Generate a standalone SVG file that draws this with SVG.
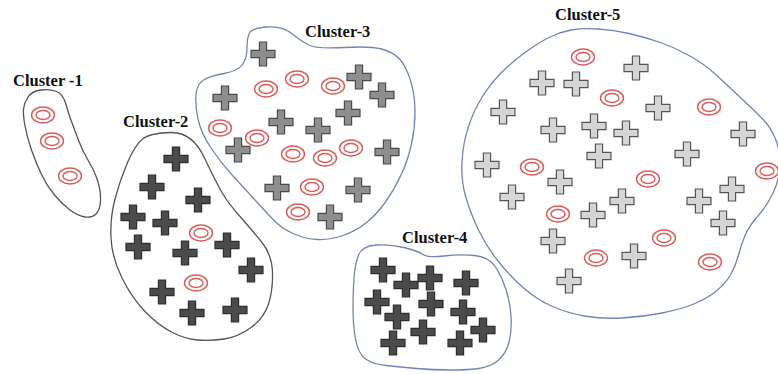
<svg xmlns="http://www.w3.org/2000/svg" xmlns:xlink="http://www.w3.org/1999/xlink" width="778" height="374" viewBox="0 0 778 374">
<style>
.bg{fill:#ffffff}
.outline-k{fill:none;stroke:#555555;stroke-width:1.3}
.outline-b{fill:none;stroke:#7484b4;stroke-width:1.3}
.label{font-family:"Liberation Serif","Times New Roman",serif;font-weight:bold;font-size:16.5px;fill:#111111}
.dark{fill:#4b4b4b;stroke:#2e2e2e;stroke-width:1.2}
.mid{fill:#8e8e8e;stroke:#4a4a4a;stroke-width:1.2}
.light{fill:#d5d5d5;stroke:#555555;stroke-width:1.2}
.ring ellipse{fill:none;stroke:#dc5a58;stroke-width:1.4}
</style>
<defs>
<path id="cross" d="M-3.6,-12 h7.2 v8.4 h8.4 v7.2 h-8.4 v8.4 h-7.2 v-8.4 h-8.4 v-7.2 h8.4 z"/>
<g id="ring" class="ring"><ellipse rx="11.5" ry="8"/><ellipse rx="7" ry="4.5"/></g>
</defs>
<rect class="bg" x="0" y="0" width="778" height="374"/>

<g id="cluster1">
<path class="outline-k" d="M28,97 Q32,91 41,90 Q50,89 56.5,91.5 Q63,94 66,104.5 Q69,115 71.5,121.5 Q74,128 78,139 Q82,150 88.5,161 Q95,172 98,182 Q101,192 100.5,201 Q100,210 96,214 Q92,218 85,217 Q78,216 70,210 Q62,204 54.5,195 Q47,186 41.5,174.5 Q36,163 31.5,150 Q27,137 25,126 Q23,115 23.5,109 Q24,103 28,97 Z"/>
<text class="label" x="13" y="86">Cluster -1</text>
<use href="#ring" x="43" y="115"/>
<use href="#ring" x="52" y="141"/>
<use href="#ring" x="70" y="176"/>
</g>

<g id="cluster2">
<path class="outline-k" d="M171,132.5 Q192,132 204,157 Q216,182 222,192.5 Q228,203 240,216.5 Q252,230 262,242.5 Q272,255 272.5,272.5 Q273,290 268.5,304 Q264,318 251,327.5 Q238,337 224,339 Q210,341 197.5,340 Q185,339 171.5,332 Q158,325 145,311.5 Q132,298 122,278 Q112,258 111,238 Q110,218 115,199 Q120,180 127.5,162.5 Q135,145 142.5,139 Q150,133 171,132.5 Z"/>
<text class="label" x="123" y="127">Cluster-2</text>
<use href="#cross" class="dark" x="176" y="159"/>
<use href="#cross" class="dark" x="152" y="187"/>
<use href="#cross" class="dark" x="198" y="200"/>
<use href="#cross" class="dark" x="133" y="217"/>
<use href="#cross" class="dark" x="165" y="223"/>
<use href="#cross" class="dark" x="138" y="247"/>
<use href="#cross" class="dark" x="185" y="253"/>
<use href="#cross" class="dark" x="227" y="245"/>
<use href="#cross" class="dark" x="251" y="270"/>
<use href="#cross" class="dark" x="162" y="292"/>
<use href="#cross" class="dark" x="192" y="313"/>
<use href="#cross" class="dark" x="235" y="310"/>
<use href="#ring" x="201" y="233"/>
<use href="#ring" x="196" y="283"/>
</g>

<g id="cluster3">
<path class="outline-b" d="M267.5,27 Q283,26 292.5,34 Q302,42 310,45.5 Q318,49 344,47.5 Q370,46 381.5,49 Q393,52 399.5,59 Q406,66 410.5,80.5 Q415,95 415,111.5 Q415,128 411.5,144 Q408,160 401,175 Q394,190 385.5,202 Q377,214 366.5,222.5 Q356,231 343,235.5 Q330,240 317.5,239.5 Q305,239 293,233.5 Q281,228 273,219.5 Q265,211 255,200 Q245,189 233,176 Q221,163 211,148 Q201,133 198,119 Q195,105 196,94.5 Q197,84 203.5,80 Q210,76 224,73.5 Q238,71 242.5,64.5 Q247,58 247,48 Q247,38 249.5,33 Q252,28 267.5,27 Z"/>
<text class="label" x="305" y="37">Cluster-3</text>
<use href="#cross" class="mid" x="263" y="54"/>
<use href="#cross" class="mid" x="225" y="98"/>
<use href="#cross" class="mid" x="359" y="77"/>
<use href="#cross" class="mid" x="382" y="95"/>
<use href="#cross" class="mid" x="348" y="113"/>
<use href="#cross" class="mid" x="281" y="122"/>
<use href="#cross" class="mid" x="318" y="130"/>
<use href="#cross" class="mid" x="238" y="150"/>
<use href="#cross" class="mid" x="387" y="152"/>
<use href="#cross" class="mid" x="277" y="188"/>
<use href="#cross" class="mid" x="358" y="190"/>
<use href="#cross" class="mid" x="330" y="217"/>
<use href="#ring" x="266" y="89"/>
<use href="#ring" x="297" y="79"/>
<use href="#ring" x="333" y="86"/>
<use href="#ring" x="220" y="128"/>
<use href="#ring" x="257" y="138"/>
<use href="#ring" x="293" y="154"/>
<use href="#ring" x="325" y="158"/>
<use href="#ring" x="351" y="148"/>
<use href="#ring" x="312" y="187"/>
<use href="#ring" x="298" y="212"/>
</g>

<g id="cluster4">
<path class="outline-b" d="M376,245 Q390,244 404,247.5 Q418,251 423,254.5 Q428,258 444,256 Q460,254 474.5,255.5 Q489,257 495.5,267 Q502,277 506,289.5 Q510,302 511,316 Q512,330 509,342 Q506,354 498,360.5 Q490,367 478.5,368.5 Q467,370 450,370 Q433,370 416.5,368.5 Q400,367 386,365.5 Q372,364 365,358.5 Q358,353 355.5,339 Q353,325 353,308.5 Q353,292 354,278 Q355,264 358.5,255 Q362,246 376,245 Z"/>
<text class="label" x="402" y="243">Cluster-4</text>
<use href="#cross" class="dark" x="383" y="270"/>
<use href="#cross" class="dark" x="406" y="285"/>
<use href="#cross" class="dark" x="430" y="278"/>
<use href="#cross" class="dark" x="466" y="283"/>
<use href="#cross" class="dark" x="377" y="302"/>
<use href="#cross" class="dark" x="431" y="304"/>
<use href="#cross" class="dark" x="397" y="317"/>
<use href="#cross" class="dark" x="463" y="312"/>
<use href="#cross" class="dark" x="423" y="332"/>
<use href="#cross" class="dark" x="483" y="330"/>
<use href="#cross" class="dark" x="393" y="343"/>
<use href="#cross" class="dark" x="460" y="343"/>
</g>

<g id="cluster5">
<path class="outline-b" d="M598,29 Q614,30 629,33.5 Q644,37 659,42 Q674,47 689,55.5 Q704,64 714,73 Q724,82 734,91.5 Q744,101 751,107.5 Q758,114 764.5,121 Q771,128 775.5,139 Q780,150 780,164 Q780,178 773.5,192 Q767,206 758,216 Q749,226 745,235.5 Q741,245 738.5,255 Q736,265 731,274 Q726,283 717,290.5 Q708,298 695,303.5 Q682,309 662,313 Q642,317 622,318 Q602,319 584.5,316 Q567,313 551.5,306 Q536,299 523,287.5 Q510,276 498,261 Q486,246 478,229 Q470,212 465.5,196 Q461,180 462,161.5 Q463,143 468.5,126.5 Q474,110 482.5,96.5 Q491,83 501.5,72.5 Q512,62 525,52.5 Q538,43 549,37.5 Q560,32 571,30 Q582,28 598,29 Z"/>
<text class="label" x="555" y="20">Cluster-5</text>
<use href="#cross" class="light" x="636" y="68"/>
<use href="#cross" class="light" x="542" y="83"/>
<use href="#cross" class="light" x="576" y="84"/>
<use href="#cross" class="light" x="658" y="108"/>
<use href="#cross" class="light" x="503" y="112"/>
<use href="#cross" class="light" x="553" y="130"/>
<use href="#cross" class="light" x="594" y="126"/>
<use href="#cross" class="light" x="626" y="133"/>
<use href="#cross" class="light" x="743" y="134"/>
<use href="#cross" class="light" x="599" y="156"/>
<use href="#cross" class="light" x="687" y="154"/>
<use href="#cross" class="light" x="487" y="165"/>
<use href="#cross" class="light" x="560" y="182"/>
<use href="#cross" class="light" x="512" y="197"/>
<use href="#cross" class="light" x="622" y="201"/>
<use href="#cross" class="light" x="699" y="201"/>
<use href="#cross" class="light" x="732" y="189"/>
<use href="#cross" class="light" x="593" y="215"/>
<use href="#cross" class="light" x="723" y="223"/>
<use href="#cross" class="light" x="553" y="241"/>
<use href="#cross" class="light" x="634" y="256"/>
<use href="#cross" class="light" x="569" y="281"/>
<use href="#ring" x="583" y="57"/>
<use href="#ring" x="612" y="98"/>
<use href="#ring" x="709" y="107"/>
<use href="#ring" x="532" y="167"/>
<use href="#ring" x="648" y="179"/>
<use href="#ring" x="767" y="171"/>
<use href="#ring" x="558" y="214"/>
<use href="#ring" x="664" y="238"/>
<use href="#ring" x="596" y="258"/>
<use href="#ring" x="710" y="262"/>
</g>
</svg>
